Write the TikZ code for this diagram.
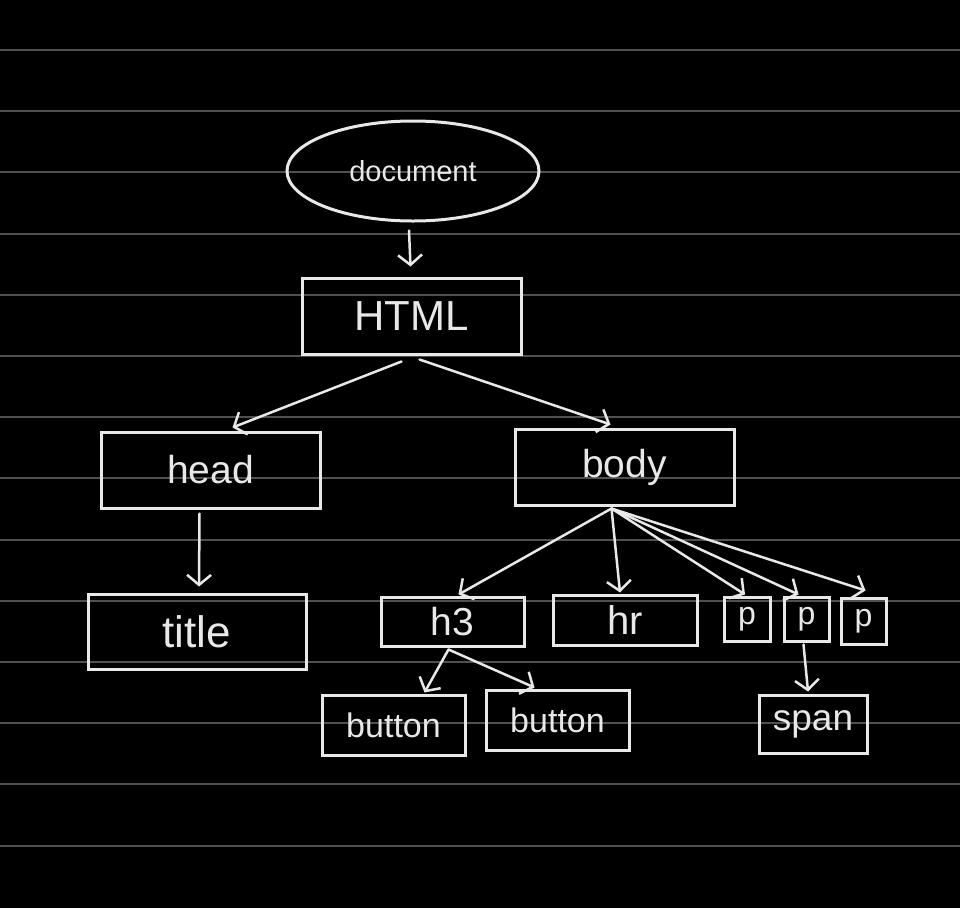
\documentclass[tikz,border=0pt]{standalone}
\usepackage{fontspec}
\setmainfont{Liberation Sans}
\usepackage{xcolor}
\usepackage{tikz}
\usetikzlibrary{arrows.meta,calc,positioning,shapes.geometric}
\definecolor{dink}{HTML}{E8E8E8}
\definecolor{dgray}{HTML}{505050}
\tikzset{
  >={Straight Barb[length=10pt,width=24pt]},
  drule/.style={dgray, line width=2pt},
  dbox/.style={rectangle, draw=dink, text=dink, line width=3pt,
               inner sep=0pt, font=\fontsize{39}{43}\selectfont},
  doval/.style={ellipse, draw=dink, text=dink, line width=3pt,
                inner sep=0pt, minimum width=252pt, minimum height=100pt,
                font=\fontsize{29}{33}\selectfont},
  dedge/.style={->, dink, line width=2.5pt, line cap=round},
}

\begin{document}
\begin{tikzpicture}[x=1pt,y=-1pt]

  % fundo de caderno
  \fill[black] (0,0) rectangle (960,908);
  \useasboundingbox (0,0) rectangle (960,908);
  \foreach \i in {0,...,13}
    \draw[drule] (0,50+61.2*\i) -- (960,50+61.2*\i);

  % nós da árvore
  \node[doval] (doc) at (413,171) {document};
  \node[dbox, minimum width=219pt, minimum height=76pt,
        font=\fontsize{42}{46}\selectfont] (html) at (411.5,316) {HTML};
  \node[dbox, minimum width=219pt, minimum height=76pt] (head) at (210.5,470) {head};
  \node[dbox, minimum width=219pt, minimum height=76pt] (body) at (624.5,467) {body};
  \node[dbox, minimum width=218pt, minimum height=75pt,
        font=\fontsize{44}{48}\selectfont] (title) at (197,631.5) {title};
  \node[dbox, minimum width=143pt, minimum height=49pt] (h3) at (452.5,621.5) {h3};
  \node[dbox, minimum width=144pt, minimum height=50pt,
        font=\fontsize{40}{44}\selectfont] (hr) at (625,620) {hr};
  \node[dbox, minimum width=46pt, minimum height=44pt,
        font=\fontsize{32}{36}\selectfont] (p1) at (747,619) {p};
  \node[dbox, minimum width=45pt, minimum height=44pt,
        font=\fontsize{32}{36}\selectfont] (p2) at (806.5,619) {p};
  \node[dbox, minimum width=45pt, minimum height=46pt,
        font=\fontsize{32}{36}\selectfont] (p3) at (863.5,621) {p};
  \node[dbox, minimum width=143pt, minimum height=60pt,
        font=\fontsize{34}{38}\selectfont] (btn1) at (393.5,725) {button};
  \node[dbox, minimum width=143pt, minimum height=60pt,
        font=\fontsize{34}{38}\selectfont] (btn2) at (557.5,720) {button};
  \node[dbox, minimum width=108pt, minimum height=58pt,
        font=\fontsize{37}{41}\selectfont] (span) at (813,724) {span};

  % pontos de saída
  \coordinate (bodyfan) at ($(body.south)+(-13,2)$);
  \coordinate (h3fan) at ($(h3.south)+(-4,2)$);

  % ligações
  \draw[dedge] ($(doc.south)+(-4,8)$) -- ($(html.north)+(-1,-10)$);
  \draw[dedge] ($(html.south)+(-10,6)$) -- ($(head.north)+(22,-3)$);
  \draw[dedge] ($(html.south)+(8,4)$) -- ($(body.north)+(-14,-3)$);
  \draw[dedge] ($(head.south)+(-11,4)$) -- ($(title.north)+(2,-6)$);
  \draw[dedge] (bodyfan) -- ($(h3.north)+(6,-1)$);
  \draw[dedge] (bodyfan) -- ($(hr.north)+(-5,-1)$);
  \draw[dedge] (bodyfan) -- ($(p1.north)+(-2,-1)$);
  \draw[dedge] (bodyfan) -- ($(p2.north)+(-8,-1)$);
  \draw[dedge] (bodyfan) -- ($(p3.north)+(2,-6)$);
  \draw[dedge] (h3fan) -- ($(btn1.north)+(31,-1)$);
  \draw[dedge] (h3fan) -- ($(btn2.north)+(-23,-1)$);
  \draw[dedge] ($(p2.south)+(-3,2)$) -- ($(span.north)+(-5,-2)$);

\end{tikzpicture}
\end{document}
